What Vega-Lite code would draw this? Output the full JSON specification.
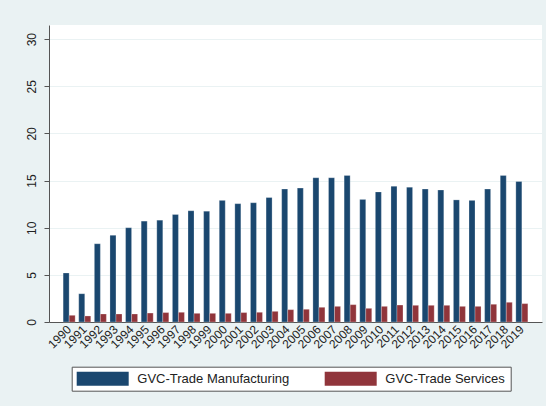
{
  "$schema": "https://vega.github.io/schema/vega-lite/v6.json",
  "autosize": "none",
  "width": 493,
  "height": 297,
  "padding": {"left": 49, "top": 25, "right": 4, "bottom": 84},
  "background": "#eaf2f3",
  "config": {
    "view": {"fill": "white", "stroke": null},
    "font": "Liberation Sans"
  },
  "datasets": {
    "gvc": [
      {"year": "1990", "series": "GVC-Trade Manufacturing", "value": 5.2},
      {"year": "1991", "series": "GVC-Trade Manufacturing", "value": 3.0},
      {"year": "1992", "series": "GVC-Trade Manufacturing", "value": 8.3},
      {"year": "1993", "series": "GVC-Trade Manufacturing", "value": 9.2},
      {"year": "1994", "series": "GVC-Trade Manufacturing", "value": 10.0},
      {"year": "1995", "series": "GVC-Trade Manufacturing", "value": 10.7},
      {"year": "1996", "series": "GVC-Trade Manufacturing", "value": 10.8},
      {"year": "1997", "series": "GVC-Trade Manufacturing", "value": 11.4},
      {"year": "1998", "series": "GVC-Trade Manufacturing", "value": 11.8},
      {"year": "1999", "series": "GVC-Trade Manufacturing", "value": 11.75},
      {"year": "2000", "series": "GVC-Trade Manufacturing", "value": 12.9},
      {"year": "2001", "series": "GVC-Trade Manufacturing", "value": 12.55},
      {"year": "2002", "series": "GVC-Trade Manufacturing", "value": 12.65},
      {"year": "2003", "series": "GVC-Trade Manufacturing", "value": 13.2},
      {"year": "2004", "series": "GVC-Trade Manufacturing", "value": 14.1},
      {"year": "2005", "series": "GVC-Trade Manufacturing", "value": 14.2},
      {"year": "2006", "series": "GVC-Trade Manufacturing", "value": 15.3},
      {"year": "2007", "series": "GVC-Trade Manufacturing", "value": 15.3},
      {"year": "2008", "series": "GVC-Trade Manufacturing", "value": 15.55},
      {"year": "2009", "series": "GVC-Trade Manufacturing", "value": 13.0},
      {"year": "2010", "series": "GVC-Trade Manufacturing", "value": 13.8},
      {"year": "2011", "series": "GVC-Trade Manufacturing", "value": 14.4},
      {"year": "2012", "series": "GVC-Trade Manufacturing", "value": 14.3},
      {"year": "2013", "series": "GVC-Trade Manufacturing", "value": 14.1},
      {"year": "2014", "series": "GVC-Trade Manufacturing", "value": 14.0},
      {"year": "2015", "series": "GVC-Trade Manufacturing", "value": 12.95},
      {"year": "2016", "series": "GVC-Trade Manufacturing", "value": 12.9},
      {"year": "2017", "series": "GVC-Trade Manufacturing", "value": 14.1},
      {"year": "2018", "series": "GVC-Trade Manufacturing", "value": 15.55},
      {"year": "2019", "series": "GVC-Trade Manufacturing", "value": 14.9},
      {"year": "1990", "series": "GVC-Trade Services", "value": 0.71},
      {"year": "1991", "series": "GVC-Trade Services", "value": 0.64},
      {"year": "1992", "series": "GVC-Trade Services", "value": 0.85},
      {"year": "1993", "series": "GVC-Trade Services", "value": 0.85},
      {"year": "1994", "series": "GVC-Trade Services", "value": 0.85},
      {"year": "1995", "series": "GVC-Trade Services", "value": 0.95},
      {"year": "1996", "series": "GVC-Trade Services", "value": 1.0},
      {"year": "1997", "series": "GVC-Trade Services", "value": 1.03},
      {"year": "1998", "series": "GVC-Trade Services", "value": 0.92},
      {"year": "1999", "series": "GVC-Trade Services", "value": 0.92},
      {"year": "2000", "series": "GVC-Trade Services", "value": 0.92},
      {"year": "2001", "series": "GVC-Trade Services", "value": 1.0},
      {"year": "2002", "series": "GVC-Trade Services", "value": 1.03},
      {"year": "2003", "series": "GVC-Trade Services", "value": 1.13},
      {"year": "2004", "series": "GVC-Trade Services", "value": 1.31},
      {"year": "2005", "series": "GVC-Trade Services", "value": 1.35},
      {"year": "2006", "series": "GVC-Trade Services", "value": 1.56},
      {"year": "2007", "series": "GVC-Trade Services", "value": 1.66},
      {"year": "2008", "series": "GVC-Trade Services", "value": 1.84},
      {"year": "2009", "series": "GVC-Trade Services", "value": 1.45},
      {"year": "2010", "series": "GVC-Trade Services", "value": 1.66},
      {"year": "2011", "series": "GVC-Trade Services", "value": 1.8},
      {"year": "2012", "series": "GVC-Trade Services", "value": 1.77},
      {"year": "2013", "series": "GVC-Trade Services", "value": 1.77},
      {"year": "2014", "series": "GVC-Trade Services", "value": 1.77},
      {"year": "2015", "series": "GVC-Trade Services", "value": 1.66},
      {"year": "2016", "series": "GVC-Trade Services", "value": 1.66},
      {"year": "2017", "series": "GVC-Trade Services", "value": 1.88},
      {"year": "2018", "series": "GVC-Trade Services", "value": 2.09},
      {"year": "2019", "series": "GVC-Trade Services", "value": 1.95}
    ]
  },
  "data": {"name": "gvc"},
  "mark": {"type": "bar", "stroke": "white", "strokeOpacity": 0.5, "strokeWidth": 0.5},
  "encoding": {
    "x": {
      "field": "year",
      "type": "nominal",
      "scale": {"paddingInner": 0.23, "paddingOuter": 0.905},
      "axis": {
        "title": null,
        "labelAngle": -45,
        "labelAlign": "right",
        "labelBaseline": "middle",
        "labelFontSize": 12,
        "labelColor": "#222",
        "labelPadding": 5,
        "ticks": false,
        "domainColor": "#555",
        "domainWidth": 1,
        "grid": false
      }
    },
    "xOffset": {
      "field": "series",
      "type": "nominal",
      "sort": ["GVC-Trade Manufacturing", "GVC-Trade Services"],
      "scale": {"paddingInner": 0, "paddingOuter": 0}
    },
    "y": {
      "field": "value",
      "type": "quantitative",
      "scale": {"domain": [0, 31.5], "nice": false, "zero": true},
      "axis": {
        "title": null,
        "values": [0, 5, 10, 15, 20, 25, 30],
        "labelAngle": -90,
        "labelAlign": "center",
        "labelBaseline": "bottom",
        "labelFontSize": 12,
        "labelColor": "#222",
        "labelPadding": 6,
        "tickSize": 5,
        "tickColor": "#555",
        "domainColor": "#555",
        "gridColor": "#eaf2f3",
        "gridWidth": 1
      }
    },
    "color": {
      "field": "series",
      "type": "nominal",
      "sort": ["GVC-Trade Manufacturing", "GVC-Trade Services"],
      "scale": {"range": ["#1a476f", "#90353b"]},
      "legend": {
        "title": null,
        "orient": "none",
        "legendX": 22.7,
        "legendY": 341.7,
        "direction": "horizontal",
        "columns": 2,
        "fillColor": "white",
        "strokeColor": "#555",
        "padding": 5,
        "symbolType": "M-3.714,-1H3.714V1H-3.714Z",
        "symbolSize": 196,
        "symbolStrokeWidth": 0,
        "symbolOpacity": 1,
        "symbolOffset": 19,
        "labelFontSize": 13,
        "labelColor": "#222",
        "labelOffset": 27.6,
        "labelLimit": 300,
        "columnPadding": 35,
        "labelExpr": "datum.label == 'GVC-Trade Services' ? datum.label + '      ' : datum.label"
      }
    }
  }
}
